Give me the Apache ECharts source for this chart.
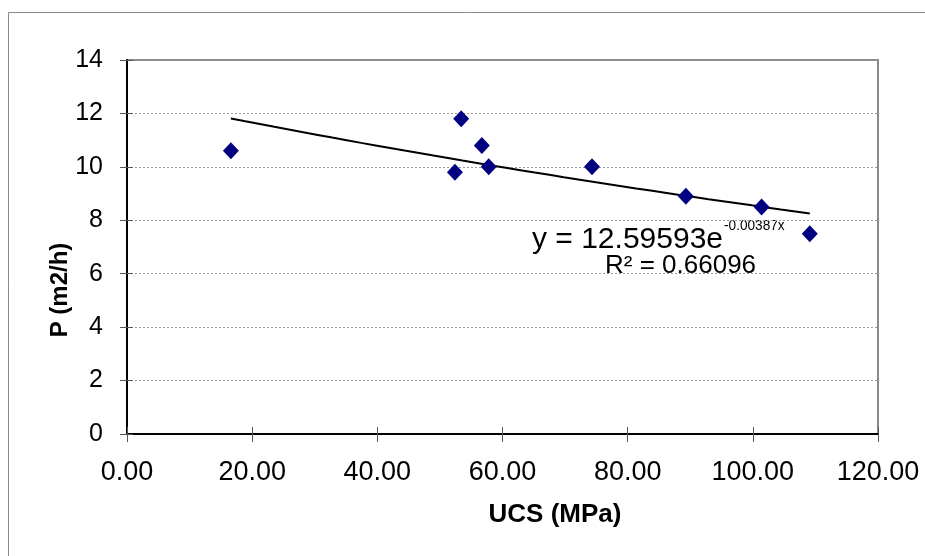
<!DOCTYPE html>
<html>
<head>
<meta charset="utf-8">
<script src="https://cdn.jsdelivr.net/npm/echarts@6/dist/echarts.min.js"></script>
<style>
  html, body { margin: 0; padding: 0; background: #fff; }
  #chart { width: 925px; height: 556px; }
</style>
</head>
<body>
<div id="chart"></div>
<script>
// Measured penetration rate against uniaxial compressive strength
var ucs = [16.6, 53.4, 52.4, 56.7, 57.8, 74.3, 89.3, 101.4, 109.1];
var rate = [10.6, 11.8, 9.8, 10.8, 10.0, 10.0, 8.9, 8.5, 7.5];

// Exponential trendline y = a * e^(b x) and its goodness of fit
var fitA = 12.59593;
var fitB = -0.00387;
var fitR2 = 0.66096;

var xTicks = [0, 20, 40, 60, 80, 100, 120];
var yTicks = [0, 2, 4, 6, 8, 10, 12, 14];

var FONT = '"Liberation Sans", Arial, sans-serif';

var points = ucs.map(function (x, i) { return [x, rate[i]]; });

// Sample the fitted curve across the range of the measurements
var xMin = Math.min.apply(null, ucs);
var xMax = Math.max.apply(null, ucs);
var trend = [];
var steps = 40;
for (var k = 0; k <= steps; k++) {
  var x = xMin + (xMax - xMin) * k / steps;
  trend.push([x, fitA * Math.exp(fitB * x)]);
}

var xCfg = { min: xTicks[0], max: xTicks[xTicks.length - 1], interval: xTicks[1] - xTicks[0] };
var yCfg = { min: yTicks[0], max: yTicks[yTicks.length - 1], interval: yTicks[1] - yTicks[0] };

var chart = echarts.init(document.getElementById('chart'), null, { renderer: 'canvas' });

chart.setOption({
  backgroundColor: '#ffffff',
  animation: false,
  grid: {
    left: 127, right: 47, top: 60, bottom: 122,
    show: true, borderColor: '#8a8a8a', borderWidth: 2, backgroundColor: 'transparent'
  },
  xAxis: [{
    type: 'value', min: xCfg.min, max: xCfg.max, interval: xCfg.interval,
    position: 'bottom',
    axisLine: { show: true, onZero: false, lineStyle: { color: '#000', width: 2 } },
    axisTick: { show: true, length: 8, lineStyle: { color: '#555', width: 1 } },
    axisLabel: {
      color: '#000', fontSize: 27, fontFamily: FONT, margin: 25,
      formatter: function (v) { return v.toFixed(2); }
    },
    splitLine: { show: false }
  }, {
    type: 'value', min: xCfg.min, max: xCfg.max, interval: xCfg.interval,
    position: 'bottom', offset: 0,
    axisLine: { show: false },
    axisTick: { show: true, inside: true, length: 7, lineStyle: { color: '#555', width: 1 } },
    axisLabel: { show: false },
    splitLine: { show: false }
  }],
  yAxis: [{
    type: 'value', min: yCfg.min, max: yCfg.max, interval: yCfg.interval,
    position: 'left',
    axisLine: { show: true, onZero: false, lineStyle: { color: '#000', width: 2 } },
    axisTick: { show: true, length: 7, lineStyle: { color: '#555', width: 1 } },
    axisLabel: { color: '#000', fontSize: 25, fontFamily: FONT, margin: 24 },
    splitLine: { show: true, lineStyle: { color: '#9a9a9a', width: 1, type: [2, 2] } }
  }, {
    type: 'value', min: yCfg.min, max: yCfg.max, interval: yCfg.interval,
    position: 'left', offset: 0,
    axisLine: { show: false },
    axisTick: { show: true, inside: true, length: 6, lineStyle: { color: '#555', width: 1 } },
    axisLabel: { show: false },
    splitLine: { show: false }
  }],
  series: [{
    name: 'Trend',
    type: 'line',
    xAxisIndex: 0, yAxisIndex: 0,
    data: trend,
    showSymbol: false,
    smooth: false,
    lineStyle: { color: '#000', width: 2 },
    z: 3
  }, {
    name: 'P',
    type: 'scatter',
    xAxisIndex: 0, yAxisIndex: 0,
    data: points,
    symbol: 'diamond',
    symbolSize: [16, 17],
    itemStyle: { color: '#000080', opacity: 1 },
    z: 4
  }],
  graphic: [
    {
      type: 'rect', silent: true, z: -1,
      shape: { x: 8.5, y: 12.5, width: 1000, height: 600 },
      style: { fill: 'none', stroke: '#8a8a8a', lineWidth: 1 }
    },
    {
      type: 'text', silent: true,
      x: 60, y: 290, rotation: Math.PI / 2,
      style: {
        text: 'P (m2/h)', fill: '#000', font: 'bold 24px ' + FONT,
        align: 'center', verticalAlign: 'middle'
      }
    },
    {
      type: 'text', silent: true,
      x: 555, y: 515,
      style: {
        text: 'UCS (MPa)', fill: '#000', font: 'bold 26px ' + FONT,
        align: 'center', verticalAlign: 'middle'
      }
    },
    {
      type: 'text', silent: true,
      x: 532, y: 240,
      style: {
        text: 'y = ' + fitA.toFixed(5) + 'e', fill: '#000', font: '30px ' + FONT,
        align: 'left', verticalAlign: 'middle'
      }
    },
    {
      // exponent drawn as a raised, slightly narrowed superscript
      type: 'text', silent: true,
      x: 724, y: 226, scaleX: 0.88,
      style: {
        text: fitB.toFixed(5) + 'x', fill: '#000', font: '15.5px ' + FONT,
        align: 'left', verticalAlign: 'middle'
      }
    },
    {
      type: 'text', silent: true,
      x: 605, y: 266,
      style: {
        text: 'R\u00b2 = ' + fitR2.toFixed(5), fill: '#000', font: '26px ' + FONT,
        align: 'left', verticalAlign: 'middle'
      }
    }
  ]
});
</script>
</body>
</html>
